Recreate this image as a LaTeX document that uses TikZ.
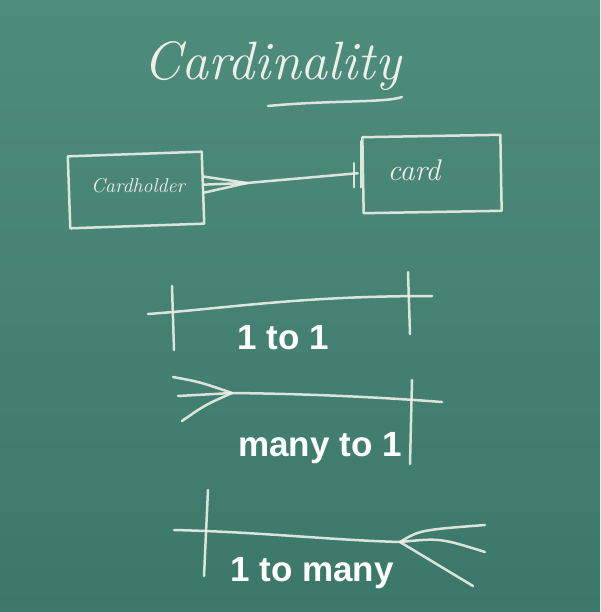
\documentclass[tikz,border=0pt]{standalone}
\usepackage{fontspec}
\newfontfamily\labelfont{Liberation Sans}
\usetikzlibrary{calc}
\definecolor{boardtop}{RGB}{78,140,124}
\definecolor{boardbot}{RGB}{60,120,106}
\definecolor{chalk}{RGB}{236,240,232}
\tikzset{
  chalkline/.style={draw=chalk, line width=2.5pt, line cap=round, line join=round, opacity=0.9},
  chalkbox/.style={chalkline, rectangle, inner sep=0pt},
  chalktext/.style={text=chalk, font=\itshape},
  caption/.style={text=white, font=\labelfont\bfseries\fontsize{35}{37}\selectfont, inner sep=0pt}
}
\begin{document}
\begin{tikzpicture}[x=1pt,y=-1pt]
\shade[top color=boardtop, bottom color=boardbot] (0,0) rectangle (600,612);
\useasboundingbox (0,0) rectangle (600,612);

% title
\node[chalktext, font=\itshape\fontsize{54}{54}\selectfont] (title) at (272,66) {Cardinality};
\draw[chalkline] (268,106) .. controls (330,100) and (385,103) .. (402,97);

% entities
\node[chalkbox, minimum width=134pt, minimum height=72pt, rotate=2] (ch) at (136,190) {};
\node[chalktext, font=\itshape\fontsize{20}{20}\selectfont] (chtext) at (138,186) {Cardholder};
\node[chalkbox, minimum width=138pt, minimum height=76pt, rotate=1] (cd) at (432,174) {};
\node[chalktext, font=\itshape\fontsize{30}{30}\selectfont] (cdtext) at (414,170) {card};

% connector between entities
\coordinate (cf) at (247,183);
\draw[chalkline] ($(ch.east)+(0,-11)$) -- (cf);
\draw[chalkline] ($(ch.east)+(0,-3)$) -- (cf);
\draw[chalkline] ($(ch.east)+(0,5)$) -- (cf);
\coordinate (cdend) at ($(cd.west)+(-4,-2)$);
\draw[chalkline] (cf) -- (cdend);
\draw[chalkline] ($(cd.west)+(-8,-12)$) -- ($(cd.west)+(-8,12)$);
\draw[chalkline] ($(cd.west)+(-1,-34)$) -- ($(cd.west)+(-1,12)$);

% 1 to 1
\coordinate (a1) at (148,314);
\coordinate (a2) at (432,296);
\draw[chalkline] (a1) .. controls (230,308) and (300,296) .. (a2);
\draw[chalkline] (172,286) -- (174,350);
\draw[chalkline] (408,272) -- (410,334);
\node[caption] (l1) at (283,338) {1 to 1};

% many to 1
\coordinate (b1) at (232,393);
\coordinate (b2) at (442,402);
\draw[chalkline] (173,377) .. controls (200,382) .. (b1);
\draw[chalkline] (178,396) -- (b1);
\draw[chalkline] (182,421) .. controls (205,405) .. (b1);
\draw[chalkline] (b1) .. controls (320,394) and (390,398) .. (b2);
\draw[chalkline] (412,380) -- (410,464);
\node[caption] (l2) at (320,448) {many to 1};

% 1 to many
\coordinate (c1) at (174,530);
\coordinate (c2) at (400,542);
\draw[chalkline] (c1) .. controls (260,532) and (330,540) .. (c2);
\draw[chalkline] (208,490) -- (204,576);
\draw[chalkline] (c2) .. controls (420,530) .. (485,525);
\draw[chalkline] (c2) .. controls (440,538) .. (485,552);
\draw[chalkline] (c2) -- (473,586);
\node[caption] (l3) at (312,573) {1 to many};
\end{tikzpicture}
\end{document}
